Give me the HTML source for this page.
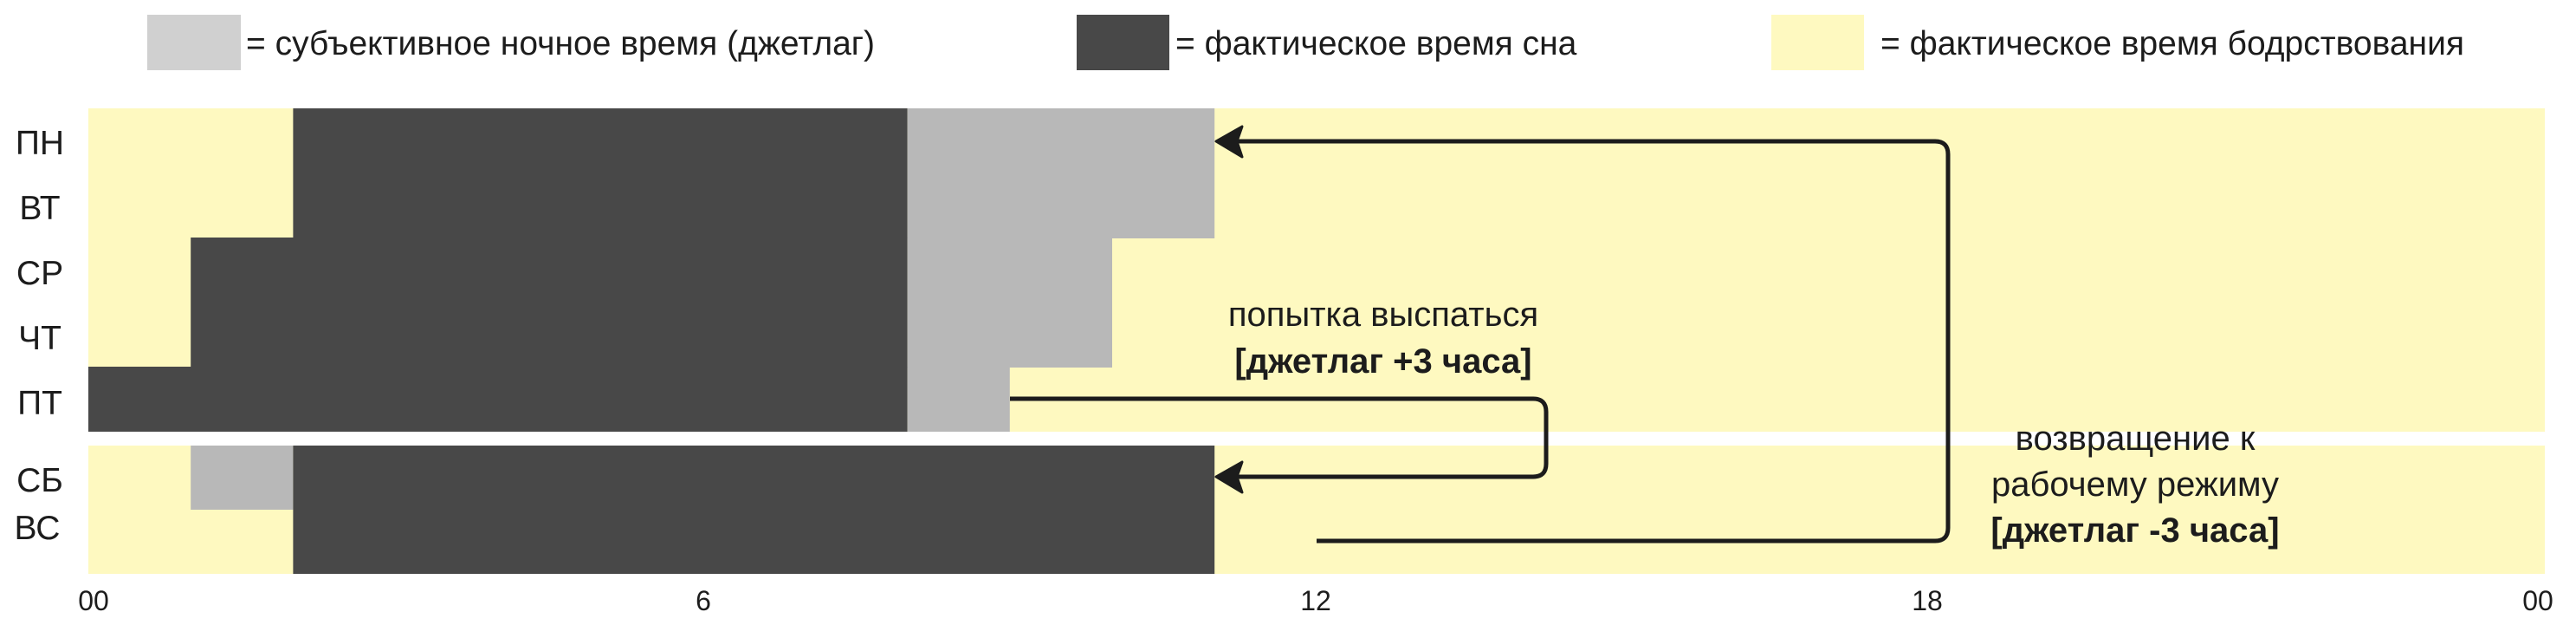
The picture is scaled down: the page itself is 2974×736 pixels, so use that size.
<!DOCTYPE html>
<html><head><meta charset="utf-8"><style>
html,body{margin:0;padding:0;background:#fff;}
svg{display:block;}
text{font-family:"Liberation Sans",sans-serif;fill:#1c1c1c;}
</style></head><body>
<svg width="2974" height="736" viewBox="0 0 2974 736" xmlns="http://www.w3.org/2000/svg">
<!-- legend -->
<rect x="170" y="17" width="108" height="64" fill="#d0d0d0"/>
<text x="284" y="63" font-size="39">= субъективное ночное время (джетлаг)</text>
<rect x="1243" y="17" width="107" height="64" fill="#484848"/>
<text x="1357" y="63" font-size="39">= фактическое время сна</text>
<rect x="2045" y="17" width="107" height="64" fill="#fef9c0"/>
<text x="2171" y="63" font-size="39">= фактическое время бодрствования</text>

<!-- backgrounds -->
<rect x="102" y="125" width="2836" height="373" fill="#fef9c0"/>
<rect x="102" y="514" width="2836" height="148" fill="#fef9c0"/>

<rect x="338.4" y="125" width="709.2" height="150" fill="#484848"/>
<rect x="1047.6" y="125" width="354.6" height="150" fill="#b8b8b8"/>
<rect x="220.2" y="274" width="827.4" height="150" fill="#484848"/>
<rect x="1047.6" y="274" width="236.4" height="150" fill="#b8b8b8"/>
<rect x="102" y="423" width="945.6" height="75" fill="#484848"/>
<rect x="1047.6" y="423" width="118.2" height="75" fill="#b8b8b8"/>

<rect x="220.2" y="514" width="118.2" height="74" fill="#b8b8b8"/>
<rect x="338.4" y="514" width="1063.8" height="148" fill="#484848"/>

<!-- day labels -->
<g font-size="39" text-anchor="middle">
<text x="46" y="178">ПН</text>
<text x="46" y="253">ВТ</text>
<text x="46" y="328">СР</text>
<text x="46" y="403">ЧТ</text>
<text x="46" y="478">ПТ</text>
<text x="46" y="567">СБ</text>
<text x="43" y="622">ВС</text>
</g>

<!-- axis -->
<g font-size="32" text-anchor="middle">
<text x="108" y="704">00</text>
<text x="812" y="704">6</text>
<text x="1519" y="704">12</text>
<text x="2225" y="704">18</text>
<text x="2930" y="704">00</text>
</g>

<!-- connectors -->
<g fill="none" stroke="#1c1c1c" stroke-width="5" stroke-linejoin="round">
<path d="M1520 624 H2234 Q2249 624 2249 609 V178 Q2249 163 2234 163 H1425"/>
<path d="M1166 460 H1770 Q1785 460 1785 475 V535 Q1785 550 1770 550 H1425"/>
</g>
<g fill="#1c1c1c" stroke="#1c1c1c" stroke-width="3" stroke-linejoin="round">
<path d="M1404 163 L1434 146 L1428 163 L1434 181 Z"/>
<path d="M1404 550 L1434 533 L1428 550 L1434 568 Z"/>
</g>

<!-- annotations -->
<g font-size="40" text-anchor="middle">
<text x="1597" y="376">попытка выспаться</text>
<text x="1597" y="430" font-weight="bold">[джетлаг +3 часа]</text>
<text x="2465" y="519">возвращение к</text>
<text x="2465" y="572" font-weight="bold" style="font-weight:normal">рабочему режиму</text>
<text x="2465" y="625" font-weight="bold">[джетлаг -3 часа]</text>
</g>
</svg>
</body></html>
